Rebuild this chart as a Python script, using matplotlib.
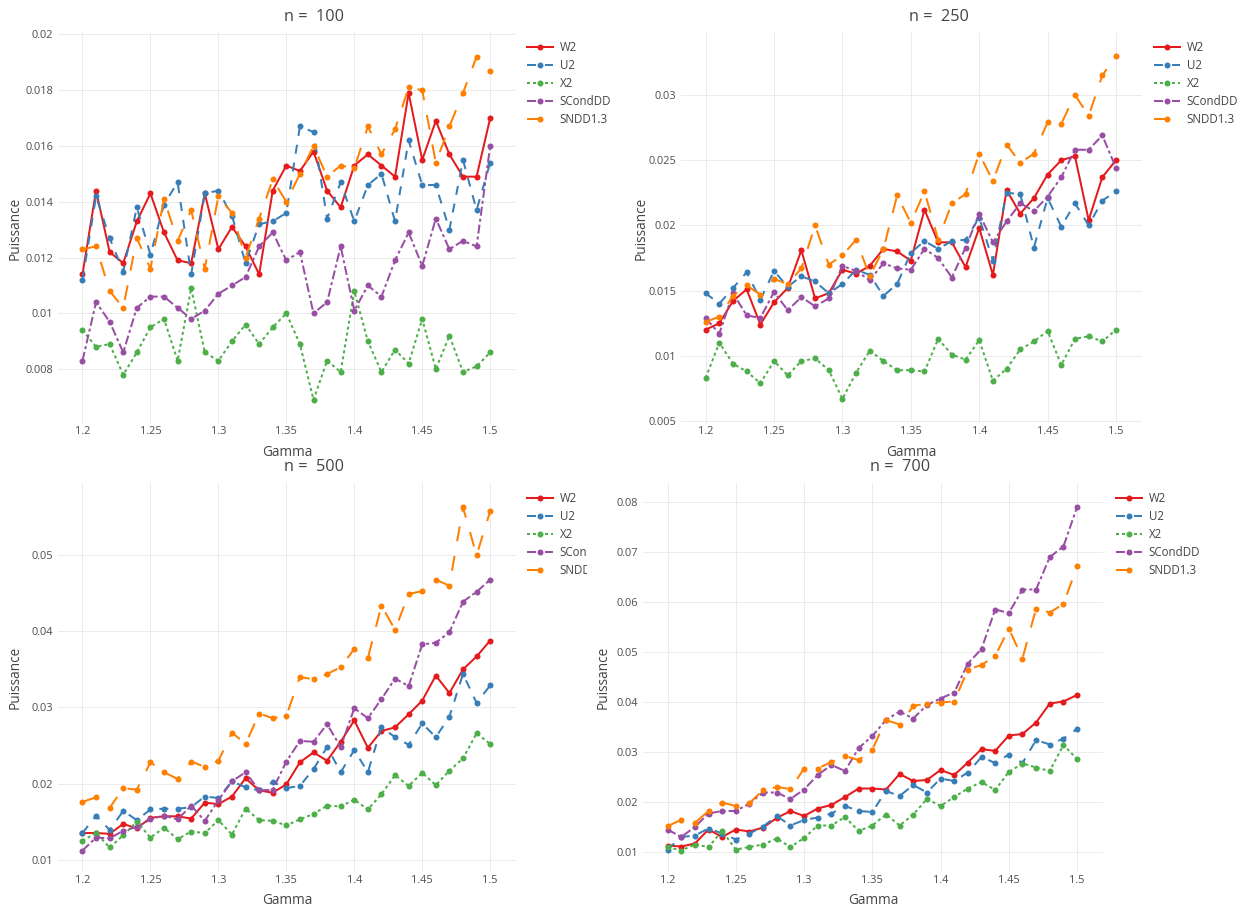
import matplotlib
matplotlib.use("Agg")
import matplotlib.pyplot as plt
from matplotlib.ticker import MultipleLocator, FuncFormatter
from matplotlib.transforms import Bbox, TransformedBbox

plt.rcParams['font.family'] = ['Open Sans', 'DejaVu Sans']
plt.rcParams['lines.scale_dashes'] = False

# --- data ---
gamma = [1.20, 1.21, 1.22, 1.23, 1.24, 1.25, 1.26, 1.27, 1.28, 1.29, 1.30,
         1.31, 1.32, 1.33, 1.34, 1.35, 1.36, 1.37, 1.38, 1.39, 1.40,
         1.41, 1.42, 1.43, 1.44, 1.45, 1.46, 1.47, 1.48, 1.49, 1.50]

series_names = ['W2', 'U2', 'X2', 'SCondDD', 'SNDD1.3']

# n = 100
w2_n100 = [0.0114, 0.0144, 0.0122, 0.0118, 0.0133, 0.0143, 0.0129, 0.0119, 0.0118, 0.0143, 0.0123,
           0.0131, 0.0124, 0.0114, 0.0144, 0.0153, 0.0151, 0.0158, 0.0144, 0.0138, 0.0153,
           0.0157, 0.0153, 0.0149, 0.0179, 0.0155, 0.0169, 0.0157, 0.0149, 0.0149, 0.0170]
u2_n100 = [0.0112, 0.0142, 0.0127, 0.0115, 0.0138, 0.0121, 0.0139, 0.0147, 0.0114, 0.0143, 0.0144,
           0.0135, 0.0118, 0.0132, 0.0133, 0.0136, 0.0167, 0.0165, 0.0134, 0.0147, 0.0133,
           0.0146, 0.0150, 0.0133, 0.0162, 0.0146, 0.0146, 0.0130, 0.0155, 0.0137, 0.0154]
x2_n100 = [0.0094, 0.0088, 0.0089, 0.0078, 0.0086, 0.0095, 0.0098, 0.0083, 0.0109, 0.0086, 0.0083,
           0.0090, 0.0096, 0.0089, 0.0095, 0.0100, 0.0089, 0.0069, 0.0083, 0.0079, 0.0108,
           0.0090, 0.0079, 0.0087, 0.0082, 0.0098, 0.0080, 0.0092, 0.0079, 0.0081, 0.0086]
sc_n100 = [0.0083, 0.0104, 0.0097, 0.0086, 0.0102, 0.0106, 0.0106, 0.0102, 0.0098, 0.0101, 0.0107,
           0.0110, 0.0113, 0.0124, 0.0129, 0.0119, 0.0122, 0.0100, 0.0104, 0.0124, 0.0101,
           0.0110, 0.0106, 0.0119, 0.0129, 0.0117, 0.0134, 0.0123, 0.0126, 0.0124, 0.0160]
sndd_n100 = [0.0123, 0.0124, 0.0108, 0.0102, 0.0127, 0.0116, 0.0141, 0.0126, 0.0137, 0.0116, 0.0142,
             0.0136, 0.0120, 0.0134, 0.0148, 0.0140, 0.0150, 0.0160, 0.0149, 0.0153, 0.0152,
             0.0167, 0.0157, 0.0166, 0.0181, 0.0180, 0.0154, 0.0167, 0.0179, 0.0192, 0.0187]

# n = 250
w2_n250 = [0.0120, 0.0125, 0.0142, 0.0151, 0.0124, 0.0141, 0.0152, 0.0181, 0.0144, 0.0148, 0.0166,
           0.0163, 0.0169, 0.0182, 0.0180, 0.0173, 0.0212, 0.0187, 0.0187, 0.0168, 0.0198,
           0.0162, 0.0227, 0.0209, 0.0221, 0.0239, 0.0250, 0.0253, 0.0204, 0.0237, 0.0250]
u2_n250 = [0.0148, 0.0140, 0.0152, 0.0164, 0.0143, 0.0165, 0.0153, 0.0161, 0.0157, 0.0148, 0.0155,
           0.0166, 0.0162, 0.0146, 0.0155, 0.0179, 0.0188, 0.0182, 0.0188, 0.0189, 0.0206,
           0.0173, 0.0225, 0.0224, 0.0183, 0.0221, 0.0199, 0.0217, 0.0200, 0.0219, 0.0226]
x2_n250 = [0.0083, 0.0110, 0.0094, 0.0088, 0.0079, 0.0096, 0.0085, 0.0096, 0.0098, 0.0089, 0.0067,
           0.0087, 0.0104, 0.0096, 0.0089, 0.0089, 0.0088, 0.0113, 0.0101, 0.0097, 0.0112,
           0.0081, 0.0090, 0.0105, 0.0111, 0.0119, 0.0093, 0.0113, 0.0115, 0.0111, 0.0120]
sc_n250 = [0.0129, 0.0117, 0.0148, 0.0131, 0.0129, 0.0149, 0.0135, 0.0145, 0.0138, 0.0144, 0.0169,
           0.0165, 0.0158, 0.0171, 0.0167, 0.0166, 0.0182, 0.0175, 0.0160, 0.0183, 0.0209,
           0.0187, 0.0203, 0.0217, 0.0211, 0.0222, 0.0237, 0.0258, 0.0258, 0.0269, 0.0244]
sndd_n250 = [0.0126, 0.0130, 0.0146, 0.0154, 0.0147, 0.0159, 0.0155, 0.0167, 0.0200, 0.0170, 0.0177,
             0.0189, 0.0161, 0.0182, 0.0223, 0.0202, 0.0226, 0.0189, 0.0217, 0.0224, 0.0255,
             0.0234, 0.0262, 0.0248, 0.0255, 0.0279, 0.0278, 0.0300, 0.0284, 0.0315, 0.0330]

# n = 500
w2_n500 = [0.0135, 0.0135, 0.0134, 0.0147, 0.0141, 0.0155, 0.0157, 0.0157, 0.0154, 0.0175, 0.0173,
           0.0183, 0.0207, 0.0191, 0.0188, 0.0199, 0.0228, 0.0241, 0.0230, 0.0255, 0.0283,
           0.0247, 0.0269, 0.0274, 0.0291, 0.0309, 0.0342, 0.0319, 0.0350, 0.0367, 0.0388]
u2_n500 = [0.0135, 0.0158, 0.0139, 0.0164, 0.0152, 0.0166, 0.0167, 0.0167, 0.0169, 0.0183, 0.0181,
           0.0203, 0.0195, 0.0191, 0.0202, 0.0194, 0.0197, 0.0219, 0.0248, 0.0215, 0.0244,
           0.0215, 0.0274, 0.0261, 0.0251, 0.0279, 0.0261, 0.0288, 0.0344, 0.0306, 0.0329]
x2_n500 = [0.0125, 0.0135, 0.0116, 0.0132, 0.0150, 0.0129, 0.0142, 0.0127, 0.0137, 0.0135, 0.0152,
           0.0133, 0.0167, 0.0152, 0.0151, 0.0145, 0.0153, 0.0160, 0.0171, 0.0170, 0.0179,
           0.0166, 0.0186, 0.0211, 0.0197, 0.0214, 0.0198, 0.0217, 0.0233, 0.0266, 0.0252]
sc_n500 = [0.0112, 0.0129, 0.0128, 0.0138, 0.0143, 0.0153, 0.0158, 0.0153, 0.0171, 0.0151, 0.0178,
           0.0203, 0.0215, 0.0191, 0.0192, 0.0229, 0.0256, 0.0255, 0.0278, 0.0248, 0.0299,
           0.0286, 0.0311, 0.0338, 0.0328, 0.0383, 0.0385, 0.0399, 0.0439, 0.0452, 0.0468]
sndd_n500 = [0.0176, 0.0182, 0.0168, 0.0194, 0.0192, 0.0228, 0.0215, 0.0206, 0.0229, 0.0222, 0.0230,
             0.0267, 0.0252, 0.0292, 0.0286, 0.0289, 0.0340, 0.0337, 0.0344, 0.0353, 0.0377,
             0.0365, 0.0434, 0.0402, 0.0449, 0.0453, 0.0468, 0.0460, 0.0563, 0.0500, 0.0558]

# n = 700
w2_n700 = [0.0113, 0.0111, 0.0117, 0.0145, 0.0130, 0.0145, 0.0141, 0.0149, 0.0168, 0.0182, 0.0172,
           0.0187, 0.0194, 0.0210, 0.0227, 0.0227, 0.0225, 0.0256, 0.0242, 0.0244, 0.0264,
           0.0254, 0.0279, 0.0306, 0.0302, 0.0333, 0.0336, 0.0359, 0.0397, 0.0401, 0.0414]
u2_n700 = [0.0105, 0.0130, 0.0133, 0.0147, 0.0137, 0.0125, 0.0137, 0.0151, 0.0172, 0.0153, 0.0164,
           0.0169, 0.0177, 0.0192, 0.0182, 0.0180, 0.0222, 0.0212, 0.0234, 0.0219, 0.0247,
           0.0242, 0.0259, 0.0290, 0.0278, 0.0295, 0.0278, 0.0324, 0.0315, 0.0327, 0.0346]
x2_n700 = [0.0110, 0.0103, 0.0115, 0.0110, 0.0142, 0.0105, 0.0110, 0.0115, 0.0127, 0.0110, 0.0128,
           0.0153, 0.0153, 0.0170, 0.0142, 0.0153, 0.0175, 0.0153, 0.0175, 0.0206, 0.0192,
           0.0210, 0.0227, 0.0240, 0.0224, 0.0260, 0.0277, 0.0269, 0.0262, 0.0314, 0.0286]
sc_n700 = [0.0145, 0.0130, 0.0150, 0.0177, 0.0182, 0.0182, 0.0197, 0.0219, 0.0219, 0.0206, 0.0225,
           0.0254, 0.0274, 0.0262, 0.0308, 0.0332, 0.0364, 0.0381, 0.0367, 0.0394, 0.0407,
           0.0419, 0.0477, 0.0506, 0.0585, 0.0578, 0.0625, 0.0625, 0.0690, 0.0711, 0.0790]
sndd_n700 = [0.0152, 0.0164, 0.0158, 0.0182, 0.0199, 0.0192, 0.0198, 0.0224, 0.0230, 0.0226, 0.0267,
             0.0267, 0.0280, 0.0292, 0.0284, 0.0305, 0.0364, 0.0355, 0.0392, 0.0397, 0.0399,
             0.0401, 0.0465, 0.0474, 0.0492, 0.0547, 0.0487, 0.0587, 0.0579, 0.0596, 0.0671]

panels = [
    (100, [w2_n100, u2_n100, x2_n100, sc_n100, sndd_n100]),
    (250, [w2_n250, u2_n250, x2_n250, sc_n250, sndd_n250]),
    (500, [w2_n500, u2_n500, x2_n500, sc_n500, sndd_n500]),
    (700, [w2_n700, u2_n700, x2_n700, sc_n700, sndd_n700]),
]

# --- style / layout ---
W, H = 1247, 911
PX = 0.72  # points per pixel at dpi=100
colors = ['#E41A1C', '#377EB8', '#4DAF4A', '#984EA3', '#FF7F00']
dashes = [None, (9, 9), (3, 3), (9, 3, 3, 3), (15, 15)]  # in px, like plotly

# (left, top, right, bottom) in px, ylim, y tick step, ylabel offset px, legend (x, y) px
layout = {
    100: ((58, 33, 516, 423), (0.00607, 0.02005), 0.002, 43, (527, 41)),
    250: ((681, 33, 1142, 423), (0.00485, 0.03475), 0.005, 40, (1154, 41)),
    500: ((58, 483, 516, 872), (0.00838, 0.0595), 0.01, 43, (527, 492)),
    700: ((643, 483, 1103, 872), (0.0060, 0.0838), 0.01, 40, (1116, 492)),
}

txt = '#444444'
fig = plt.figure(figsize=(W / 100, H / 100), dpi=100)

for n, ys in panels:
    (l, t, r, b), ylim, ystep, yoff, (lx, ly) = layout[n]
    w, h = r - l, b - t
    ax = fig.add_axes([l / W, 1 - b / H, w / W, h / H])
    for name, y, c, d in zip(series_names, ys, colors, dashes):
        line, = ax.plot(gamma, y, color=c, lw=2 * PX, marker='o', ms=6 * PX,
                        mew=0, label=name)
        if d is not None:
            line.set_dashes([v * PX for v in d])
    ax.set_xlim(1.182, 1.519)
    ax.set_ylim(*ylim)
    ax.xaxis.set_major_locator(MultipleLocator(0.05))
    ax.yaxis.set_major_locator(MultipleLocator(ystep))
    fmt = FuncFormatter(lambda v, p: f'{v:g}')
    ax.xaxis.set_major_formatter(fmt)
    ax.yaxis.set_major_formatter(fmt)
    for s in ax.spines.values():
        s.set_visible(False)
    ax.grid(True, color='#EBEBEB', lw=1 * PX)
    ax.set_axisbelow(True)
    ax.tick_params(axis='both', length=0, labelsize=7.9, colors='#4D4D4D')
    ax.tick_params(axis='x', pad=2)
    ax.tick_params(axis='y', pad=3.6)

    ax.set_xlabel('Gamma', fontsize=9.8, color=txt, va='center')
    ax.xaxis.set_label_coords(0.5, -29 / h)
    ax.set_ylabel('Puissance', fontsize=9.8, color=txt, va='center')
    ax.yaxis.set_label_coords(-yoff / w, 0.5)
    ax.text(0.5 + 27 / w, 1 + 16 / h, f'n =  {n}', transform=ax.transAxes,
            ha='center', va='center', fontsize=11.7, color=txt)

    leg = ax.legend(loc='upper left', bbox_to_anchor=(lx / W, 1 - ly / H),
                    bbox_transform=fig.transFigure, frameon=False, fontsize=8.3,
                    handlelength=2.25, handletextpad=0.6, borderpad=0,
                    borderaxespad=0, labelspacing=0.43, numpoints=1,
                    labelcolor=txt)
    if n == 500:
        # legend of the lower-left panel is cut off by the neighbouring panel
        clip = TransformedBbox(Bbox([[0, 0], [587 / W, 1]]), fig.transFigure)
        for t_ in leg.get_texts():
            t_.set_clip_box(clip)
            t_.set_clip_on(True)

fig.savefig('out.png', dpi=100, facecolor='white')
